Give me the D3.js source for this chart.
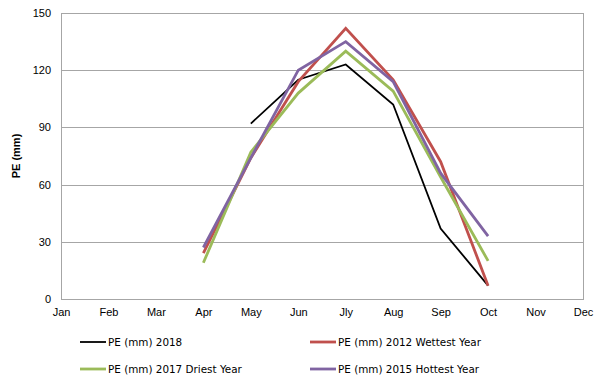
<!DOCTYPE html>
<html>
<head>
<meta charset="utf-8">
<script src="https://cdn.jsdelivr.net/npm/d3@7"></script>
<style>
  body { margin: 0; background: #fff; }
  svg { display: block; }
</style>
</head>
<body>
<svg width="603" height="379"></svg>
<script>
// данные графика
const months = ["Jan", "Feb", "Mar", "Apr", "May", "Jun", "Jly", "Aug", "Sep", "Oct", "Nov", "Dec"];
const yTicks = [0, 30, 60, 90, 120, 150];

const pe2018 = [null, null, null, null, 92, 115, 123, 102, 37, 7, null, null];
const pe2012 = [null, null, null, 24, 74, 114, 142, 115, 72, 7, null, null];
const pe2017 = [null, null, null, 19, 77, 108, 130, 109, 64, 20, null, null];
const pe2015 = [null, null, null, 27, 74, 120, 135, 114, 66, 33, null, null];

const seriesNames = ["PE (mm) 2018", "PE (mm) 2012 Wettest Year", "PE (mm) 2017 Driest Year", "PE (mm) 2015 Hottest Year"];
const seriesColors = ["#000000", "#C0504D", "#9BBB59", "#8064A2"];
const seriesWidths = [1.8, 2.8, 2.8, 2.8];

const series = [pe2018, pe2012, pe2017, pe2015].map((vals, i) => ({
    name: seriesNames[i], color: seriesColors[i], width: seriesWidths[i], values: vals
}));

const svg = d3.select("svg");

// область построения
const area = { left: 61, top: 13, right: 583, bottom: 299 };

const scaleX = d3.scalePoint()
    .domain(months)
    .range([area.left, area.right]);

const scaleY = d3.scaleLinear()
    .domain([0, 150])
    .range([area.bottom, area.top]);

// сетка
svg.append("g")
    .selectAll("line")
    .data(yTicks)
    .enter()
    .append("line")
    .attr("x1", area.left)
    .attr("x2", area.right)
    .attr("y1", d => Math.round(scaleY(d)) + 0.5)
    .attr("y2", d => Math.round(scaleY(d)) + 0.5)
    .style("stroke", "#A6A6A6")
    .style("stroke-width", 1);

// рамка
svg.append("rect")
    .attr("x", area.left + 0.5)
    .attr("y", Math.round(area.top) + 0.5)
    .attr("width", area.right - area.left)
    .attr("height", Math.round(area.bottom) - Math.round(area.top))
    .style("fill", "none")
    .style("stroke", "#A6A6A6");

// оси
const axisY = d3.axisLeft(scaleY).tickValues(yTicks).tickSize(0).tickPadding(10);
const gy = svg.append("g")
    .attr("transform", `translate(${area.left}, 0)`)
    .call(axisY);
gy.select(".domain").remove();
gy.selectAll("text")
    .style("font-family", "Liberation Sans, Arial, sans-serif")
    .style("font-size", "11px")
    .style("fill", "#000");

const axisX = d3.axisBottom(scaleX).tickSize(0).tickPadding(9);
const gx = svg.append("g")
    .attr("transform", `translate(0, ${area.bottom})`)
    .call(axisX);
gx.select(".domain").remove();
gx.selectAll("text")
    .style("font-family", "Liberation Sans, Arial, sans-serif")
    .style("font-size", "11px")
    .style("fill", "#000");

// подпись оси Y
svg.append("text")
    .attr("transform", `translate(20, ${(area.top + area.bottom) / 2}) rotate(-90)`)
    .attr("text-anchor", "middle")
    .style("font-family", "Liberation Sans, Arial, sans-serif")
    .style("font-size", "11px")
    .style("font-weight", "bold")
    .text("PE (mm)");

// линии
const lineGenerator = d3.line()
    .defined(d => d.v !== null)
    .x(d => scaleX(d.m))
    .y(d => scaleY(d.v));

for (const s of series) {
    const pts = months.map((m, i) => ({ m: m, v: s.values[i] }));
    svg.append("path")
        .attr("d", lineGenerator(pts))
        .style("fill", "none")
        .style("stroke", s.color)
        .style("stroke-width", s.width)
        .style("stroke-linejoin", "miter");
}

// легенда
const legendPos = [[80, 342], [310, 342], [80, 369], [310, 369]];
series.forEach((s, i) => {
    const [lx, ly] = legendPos[i];
    const g = svg.append("g").attr("transform", `translate(${lx}, ${ly})`);
    g.append("line")
        .attr("x1", 0).attr("x2", 26)
        .attr("y1", 0).attr("y2", 0)
        .style("stroke", s.color)
        .style("stroke-width", s.width);
    g.append("text")
        .attr("x", 28)
        .attr("y", 4)
        .style("font-family", "DejaVu Sans, sans-serif")
        .style("font-size", "10.4px")
        .style("fill", "#000")
        .text(s.name);
});
</script>
</body>
</html>
